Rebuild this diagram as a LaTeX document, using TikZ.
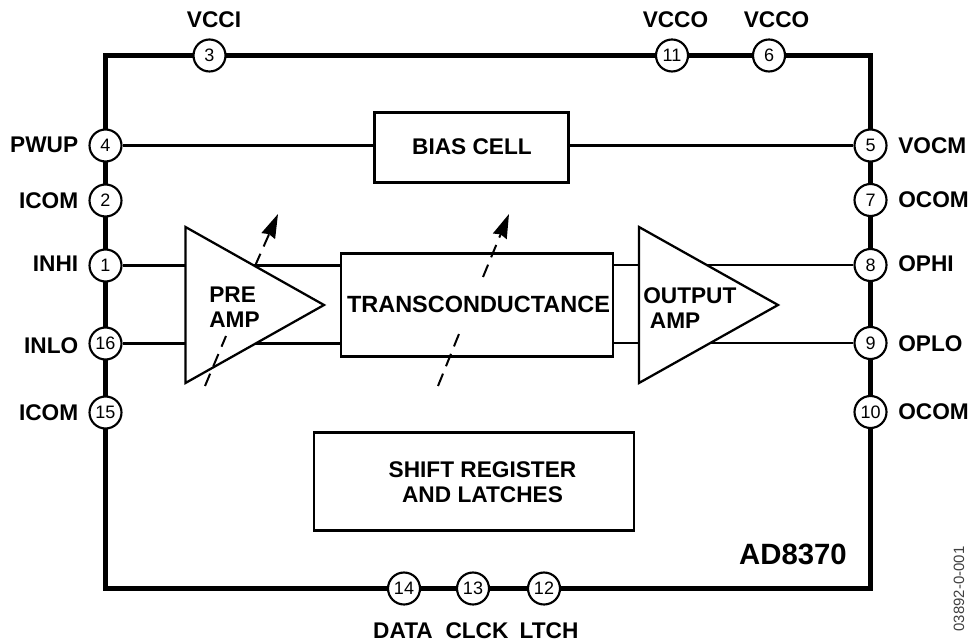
\documentclass[tikz,border=0pt]{standalone}
\usepackage{fontspec}
\setmainfont{Liberation Sans}
\usetikzlibrary{arrows.meta,positioning}
\newcommand{\pinfont}{\fontsize{13.5}{14}\selectfont}
\newcommand{\labfont}{\fontsize{17}{18.75}\selectfont\bfseries}

\begin{document}
\begin{tikzpicture}[
    x=0.75pt,y=-0.75pt,
    pin/.style={draw,circle,fill=white,line width=1.6pt,minimum size=24pt,inner sep=0pt,font=\pinfont},
    pinname/.style={inner sep=0pt,font=\labfont},
    block/.style={draw,fill=white,line width=2.1pt,inner sep=0pt},
    amp/.style={draw,fill=white,line width=1.7pt,line join=miter},
    wire/.style={line width=2.1pt},
    gain/.style={line width=1.5pt,dash pattern=on 10pt off 6pt},
    gaintip/.style={-{Stealth[length=18pt,width=11pt,inset=1.5pt]}},
    ]
    \useasboundingbox (0,0) rectangle (970,641);

    % package outline
    \coordinate (nw) at (105.5,55.5);
    \coordinate (se) at (870.5,588.5);
    \draw[line width=3.8pt] (nw) rectangle (se);

    % blocks
    \node[block,minimum width=146pt,minimum height=52pt] (bias) at (471.5,147.5) {};
    \node[block,minimum width=204pt,minimum height=77pt] (trans) at (477,305) {};
    \node[block,minimum width=240pt,minimum height=73pt] (shift) at (474,481.5) {};

    % pins
    \foreach \num/\ypos/\ly/\txt in {4/145.5/145/PWUP,2/200.5/201/ICOM,1/265.5/264/INHI,16/343.5/346/INLO,15/412.5/413/ICOM} {
      \node[pin] (p\num) at (105.5,\ypos) {\num};
      \node[pinname,anchor=east] (n\num) at (78.5,\ly) {\txt};
    }
    \foreach \num/\ypos/\ly/\txt in {5/145.5/145.5/VOCM,7/200/200/OCOM,8/265/264/OPHI,9/343/344/OPLO,10/412/412/OCOM} {
      \node[pin] (p\num) at (870.5,\ypos) {\num};
      \node[pinname,anchor=west] (n\num) at (898,\ly) {\txt};
    }
    \foreach \num/\xpos/\lx/\txt in {3/209.5/214/VCCI,11/672/675.5/VCCO,6/769/776.5/VCCO} {
      \node[pin] (p\num) at (\xpos,55.5) {\num};
      \node[pinname,anchor=base] (n\num) at (\lx,28) {\txt};
    }
    \foreach \num/\xpos/\lx/\txt in {14/404/403/DATA,13/473/477/CLCK,12/544/549/LTCH} {
      \node[pin] (p\num) at (\xpos,588.5) {\num};
      \node[pinname,anchor=base] (n\num) at (\lx,638) {\txt};
    }

    % signal path
    \draw[wire] (p4) -- (bias.west |- p4);
    \draw[wire] (bias.east |- p5) -- (p5);
    \draw[wire] (p1) -- (trans.west |- p1);
    \draw[wire] (p16) -- (trans.west |- p16);
    \draw[wire] (trans.east |- p8) -- (p8);
    \draw[wire] (trans.east |- p9) -- (p9);

    % amplifiers
    \coordinate (pretop) at (185.5,227);
    \coordinate (prebot) at (185.5,383);
    \coordinate (pretip) at (324,305);
    \coordinate (outtop) at (639,227);
    \coordinate (outbot) at (639,383);
    \coordinate (outtip) at (778,305);
    \draw[amp] (pretop) -- (pretip) -- (prebot) -- cycle;
    \draw[amp] (outtop) -- (outtip) -- (outbot) -- cycle;

    % gain control arrows
    \coordinate (ga0) at (205,386);
    \coordinate (ga1) at (226,336);
    \coordinate (ga2) at (255,266);
    \coordinate (ga3) at (278,214);
    \coordinate (gb0) at (438,386);
    \coordinate (gb1) at (461,329);
    \coordinate (gb2) at (483,277);
    \coordinate (gb3) at (509,214);
    \draw[gain] (ga0) -- (ga1);
    \draw[gain,gaintip] (ga2) -- (ga3);
    \draw[gain] (gb0) -- (gb1);
    \draw[gain,gaintip] (gb2) -- (gb3);

    % block texts
    \node[pinname] (biastxt) at (472,146.5) {BIAS CELL};
    \node[pinname,font=\fontsize{17.6}{19}\selectfont\bfseries] (tctxt) at (478.5,304) {TRANSCONDUCTANCE};
    \node[pinname,align=center] (shifttxt) at (482.5,482.5) {SHIFT REGISTER\\AND LATCHES};
    \node[pinname,align=left,anchor=west] (pretxt) at (209,307.5) {PRE\\AMP};
    \node[pinname,align=left,anchor=west] (outtxt) at (643,308.5) {OUTPUT\\\hspace*{5pt}AMP};

    \node[pinname,font=\fontsize{22}{24}\selectfont\bfseries] (part) at (793,554) {AD8370};
    \node[pinname,rotate=90,text=black!75,font=\fontsize{11.2}{12}\selectfont] (code) at (959,589) {03892-0-001};
  \end{tikzpicture}
\end{document}
